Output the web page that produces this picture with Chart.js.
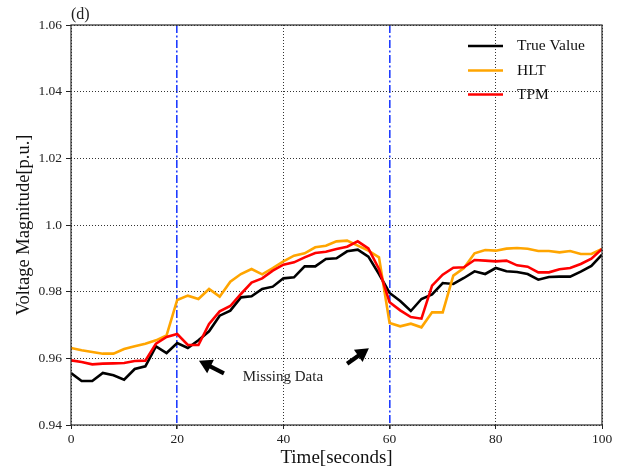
<!DOCTYPE html>
<html>
<head>
<meta charset="utf-8">
<script src="https://cdn.jsdelivr.net/npm/chart.js@4.4.1/dist/chart.umd.min.js"></script>
<style>
  html, body { margin: 0; padding: 0; background: #fff; }
  #wrap { width: 630px; height: 469px; }
</style>
</head>
<body>
<div id="wrap"><canvas id="voltChart" width="630" height="469"></canvas></div>
<script>
// ---- data ----
const timeSec = [0, 2, 4, 6, 8, 10, 12, 14, 16, 18, 20, 22, 24, 26, 28, 30, 32, 34, 36, 38, 40,
                 42, 44, 46, 48, 50, 52, 54, 56, 58, 60, 62, 64, 66, 68, 70, 72, 74, 76, 78, 80,
                 82, 84, 86, 88, 90, 92, 94, 96, 98, 100];

const trueValue = [0.9556, 0.9532, 0.9532, 0.9556, 0.9549, 0.9536, 0.9568, 0.9576, 0.9636, 0.9616, 0.9646,
                   0.9631, 0.9654, 0.9681, 0.9728, 0.9743, 0.9783, 0.9786, 0.9808, 0.9815, 0.9840,
                   0.9843, 0.9876, 0.9876, 0.9898, 0.9900, 0.9921, 0.9926, 0.9905, 0.9853, 0.9796,
                   0.9772, 0.9742, 0.9778, 0.9792, 0.9826, 0.9823, 0.9841, 0.9861, 0.9853, 0.9871,
                   0.9861, 0.9859, 0.9853, 0.9836, 0.9844, 0.9845, 0.9845, 0.9860, 0.9877, 0.9911];

const hltValue = [0.9631, 0.9624, 0.9619, 0.9614, 0.9614, 0.9628, 0.9636, 0.9644, 0.9654, 0.9669, 0.9775,
                  0.9788, 0.9778, 0.9808, 0.9785, 0.9830, 0.9853, 0.9868, 0.9852, 0.9871, 0.9891,
                  0.9908, 0.9915, 0.9933, 0.9938, 0.9951, 0.9953, 0.9938, 0.9923, 0.9903, 0.9706,
                  0.9696, 0.9704, 0.9693, 0.9738, 0.9738, 0.9848, 0.9871, 0.9915, 0.9925, 0.9923,
                  0.9929, 0.9931, 0.9929, 0.9922, 0.9922, 0.9918, 0.9922, 0.9913, 0.9913, 0.9928];

const tpmValue = [0.9594, 0.9589, 0.9582, 0.9584, 0.9585, 0.9586, 0.9592, 0.9593, 0.9644, 0.9664, 0.9673,
                  0.9640, 0.9640, 0.9703, 0.9741, 0.9757, 0.9793, 0.9827, 0.9840, 0.9863, 0.9881,
                  0.9888, 0.9903, 0.9916, 0.9920, 0.9928, 0.9935, 0.9951, 0.9930, 0.9868, 0.9768,
                  0.9744, 0.9724, 0.9719, 0.9818, 0.9851, 0.9872, 0.9873, 0.9895, 0.9893, 0.9891,
                  0.9893, 0.9879, 0.9875, 0.9858, 0.9858, 0.9867, 0.9871, 0.9883, 0.9899, 0.9928];

const seriesLabels = ['True Value', 'HLT', 'TPM'];
const xTicks = [0, 20, 40, 60, 80, 100];
const yTicks = [0.94, 0.96, 0.98, 1.00, 1.02, 1.04, 1.06];
const yTickLabels = ['0.94', '0.96', '0.98', '1.0', '1.02', '1.04', '1.06'];
const missingAt = [20, 60];   // dash-dot markers where data drops out

// annotation anchors, in axis units
const arrowNotes = [
    { from: [28.8, 0.9555], to: [24.1, 0.9593] },
    { from: [52.0, 0.9584], to: [56.1, 0.9630] }
];
const noteText = { x: 39.9, y: 0.9544, text: 'Missing Data' };
const panelTag = '(d)';

// ---- styling ----
const SERIF = "'Liberation Serif', 'Times New Roman', serif";
const colors = ['#000000', '#ffa500', '#ff0000'];
Chart.defaults.font.family = SERIF;
Chart.defaults.color = '#222';

const toPoints = vals => vals.map((v, i) => ({ x: timeSec[i], y: v }));
const isMissing = c => c.tick && missingAt.includes(c.tick.value);

// frame, legend, arrows and labels drawn on top of the plot
const notesPlugin = {
    id: 'notes',
    afterDatasetsDraw(chart) {
        const { ctx, chartArea: a, scales: { x, y } } = chart;
        ctx.save();

        ctx.strokeStyle = '#2a2a2a';
        ctx.lineWidth = 1.2;
        ctx.strokeRect(a.left, a.top, a.right - a.left, a.bottom - a.top);

        // arrows
        ctx.fillStyle = '#000';
        ctx.strokeStyle = '#000';
        arrowNotes.forEach(n => {
            const x0 = x.getPixelForValue(n.from[0]), y0 = y.getPixelForValue(n.from[1]);
            const x1 = x.getPixelForValue(n.to[0]), y1 = y.getPixelForValue(n.to[1]);
            const ang = Math.atan2(y1 - y0, x1 - x0);
            const head = 13, half = 7.5;
            const bx = x1 - head * Math.cos(ang), by = y1 - head * Math.sin(ang);
            ctx.lineWidth = 4.2;
            ctx.beginPath();
            ctx.moveTo(x0, y0);
            ctx.lineTo(bx + Math.cos(ang), by + Math.sin(ang));
            ctx.stroke();
            ctx.beginPath();
            ctx.moveTo(x1, y1);
            ctx.lineTo(bx + half * Math.sin(ang), by - half * Math.cos(ang));
            ctx.lineTo(bx - half * Math.sin(ang), by + half * Math.cos(ang));
            ctx.closePath();
            ctx.fill();
        });

        ctx.fillStyle = '#222';
        ctx.font = '15px ' + SERIF;
        ctx.textAlign = 'center';
        ctx.textBaseline = 'middle';
        ctx.fillText(noteText.text, x.getPixelForValue(noteText.x), y.getPixelForValue(noteText.y));

        // panel tag
        ctx.font = '16px ' + SERIF;
        ctx.textAlign = 'left';
        ctx.fillText(panelTag, a.left, a.top - 10);

        // legend
        ctx.font = '15.5px ' + SERIF;
        const rows = [21, 45.5, 69.5];
        seriesLabels.forEach((lab, i) => {
            const ry = a.top + rows[i];
            ctx.strokeStyle = colors[i];
            ctx.lineWidth = 2.6;
            ctx.beginPath();
            ctx.moveTo(a.right - 134, ry);
            ctx.lineTo(a.right - 99, ry);
            ctx.stroke();
            ctx.fillStyle = '#111';
            ctx.fillText(lab, a.right - 85, ry);
        });

        ctx.restore();
    }
};

const lineSet = (i, vals, order) => ({
    label: seriesLabels[i],
    data: toPoints(vals),
    borderColor: colors[i],
    borderWidth: 2.6,
    pointRadius: 0,
    tension: 0,
    fill: false,
    order: order
});

new Chart(document.getElementById('voltChart'), {
    type: 'line',
    data: {
        datasets: [
            lineSet(0, trueValue, 3),
            lineSet(1, hltValue, 2),
            lineSet(2, tpmValue, 1)
        ]
    },
    options: {
        responsive: false,
        animation: false,
        layout: { padding: { top: 25, right: 28, left: 0, bottom: 0 } },
        plugins: {
            legend: { display: false },
            tooltip: { enabled: false }
        },
        scales: {
            x: {
                type: 'linear',
                min: 0,
                max: 100,
                afterBuildTicks: s => { s.ticks = xTicks.map(v => ({ value: v })); },
                afterFit: s => { s.height = 44; },
                grid: {
                    color: c => isMissing(c) ? '#1f3cff' : '#333',
                    lineWidth: c => isMissing(c) ? 1.6 : 1,
                    tickColor: '#222',
                    tickLength: 4,
                    tickBorderDash: []
                },
                border: {
                    display: false,
                    dash: c => isMissing(c) ? [8, 2.5, 2, 2.5] : [1, 2]
                },
                ticks: {
                    color: '#222',
                    padding: 2,
                    maxRotation: 0,
                    font: { size: 13.5 },
                    callback: v => String(v)
                },
                title: {
                    display: true,
                    text: 'Time[seconds]',
                    color: '#111',
                    font: { size: 19 },
                    padding: { top: 0, bottom: 0 }
                }
            },
            y: {
                min: 0.94,
                max: 1.06,
                afterBuildTicks: s => { s.ticks = yTicks.map(v => ({ value: v })); },
                afterFit: s => { s.width = 71; },
                grid: {
                    color: '#333',
                    lineWidth: 1,
                    tickColor: '#222',
                    tickLength: 5,
                    tickBorderDash: []
                },
                border: { display: false, dash: [1, 2] },
                ticks: {
                    color: '#222',
                    padding: 4,
                    font: { size: 13.5 },
                    callback: (v, i) => yTickLabels[i]
                },
                title: {
                    display: true,
                    text: 'Voltage Magnitude[p.u.]',
                    color: '#111',
                    font: { size: 18.5 },
                    padding: { top: 13, bottom: 0 }
                }
            }
        }
    },
    plugins: [notesPlugin]
});
</script>
</body>
</html>
